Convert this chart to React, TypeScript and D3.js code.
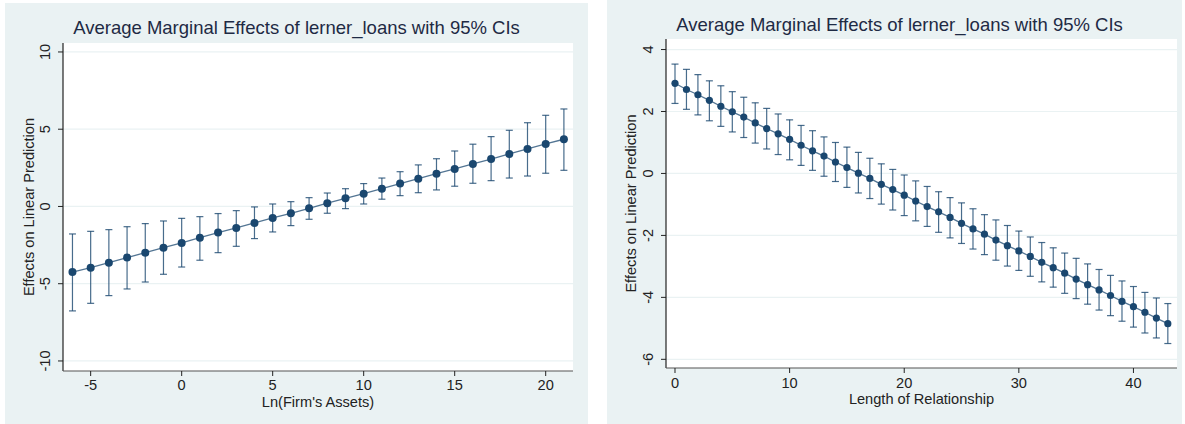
import { scaleLinear, line } from "d3";

// ---- data ----
const assetsX = [-6,-5,-4,-3,-2,-1,0,1,2,3,4,5,6,7,8,9,10,11,12,13,14,15,16,17,18,19,20,21];
const assetsMid = [-4.25,-3.96,-3.64,-3.31,-2.99,-2.67,-2.36,-2.02,-1.69,-1.39,-1.07,-0.74,-0.44,-0.12,0.21,0.53,0.83,1.15,1.48,1.80,2.12,2.43,2.75,3.07,3.40,3.72,4.05,4.35];
const assetsHi = [-1.78,-1.61,-1.50,-1.31,-1.11,-0.94,-0.77,-0.66,-0.46,-0.27,-0.03,0.16,0.31,0.57,0.87,1.15,1.48,1.84,2.25,2.69,3.09,3.59,4.03,4.52,4.93,5.42,5.90,6.31];
const assetsLo = [-6.76,-6.27,-5.77,-5.34,-4.89,-4.39,-3.92,-3.48,-2.99,-2.58,-2.08,-1.65,-1.24,-0.83,-0.44,-0.14,0.16,0.47,0.70,0.89,1.07,1.31,1.50,1.67,1.84,1.97,2.15,2.34];
const assetsXTicks = [-5,0,5,10,15,20];
const assetsYTicks = [-10,-5,0,5,10];

const relX = Array.from({ length: 44 }, (_, i) => i);
const relMid = [2.91,2.71,2.54,2.36,2.17,1.99,1.82,1.63,1.45,1.28,1.10,0.91,0.73,0.56,0.37,0.19,0.01,-0.16,-0.35,-0.52,-0.70,-0.89,-1.07,-1.24,-1.42,-1.61,-1.79,-1.96,-2.15,-2.33,-2.50,-2.68,-2.87,-3.04,-3.22,-3.41,-3.59,-3.76,-3.94,-4.13,-4.30,-4.48,-4.67,-4.85];
const relHi = [3.53,3.36,3.19,2.99,2.83,2.64,2.46,2.28,2.10,1.92,1.73,1.55,1.38,1.18,1.00,0.85,0.68,0.49,0.31,0.13,-0.05,-0.24,-0.42,-0.59,-0.78,-0.95,-1.14,-1.33,-1.50,-1.68,-1.86,-2.05,-2.23,-2.40,-2.57,-2.74,-2.92,-3.10,-3.29,-3.47,-3.65,-3.84,-4.02,-4.20];
const relLo = [2.26,2.07,1.89,1.70,1.52,1.34,1.16,0.98,0.79,0.61,0.44,0.26,0.10,-0.09,-0.26,-0.45,-0.63,-0.81,-0.99,-1.18,-1.36,-1.53,-1.71,-1.90,-2.08,-2.26,-2.44,-2.62,-2.80,-2.99,-3.13,-3.32,-3.50,-3.67,-3.87,-4.04,-4.22,-4.41,-4.59,-4.77,-4.96,-5.15,-5.31,-5.49];
const relXTicks = [0,10,20,30,40];
const relYTicks = [-6,-4,-2,0,2,4];

const TITLE = "Average Marginal Effects of lerner_loans with 95% CIs";
const YTITLE = "Effects on Linear Prediction";

const BG = "#eaf2f3";
const NAVY = "#1a476f";
const FONT = "'Liberation Sans', Arial, sans-serif";

interface PanelProps {
  box: { x0: number; y0: number; x1: number; y1: number };
  plot: { left: number; top: number; right: number; bottom: number };
  xDom: [number, number]; yDom: [number, number];
  xs: number[]; mid: number[]; lo: number[]; hi: number[];
  xTicks: number[]; yTicks: number[];
  xTitle: string; titleX: number; titleY: number;
  yTitleX: number; yTickX: number; xTickY: number; xTitleY: number;
  r: number;
}

function Panel(p: PanelProps) {
  const { plot } = p;
  const x = scaleLinear().domain(p.xDom).range([plot.left, plot.right]);
  const y = scaleLinear().domain(p.yDom).range([plot.bottom, plot.top]);
  const path = line<number>().x((_, i) => x(p.xs[i])).y(d => y(d))(p.mid) ?? "";
  const cap = 3.5;
  const cy = (plot.top + plot.bottom) / 2;
  return (
    <g>
      <rect x={p.box.x0} y={p.box.y0} width={p.box.x1 - p.box.x0} height={p.box.y1 - p.box.y0} fill={BG}/>
      <rect x={plot.left} y={plot.top} width={plot.right - plot.left} height={plot.bottom - plot.top} fill="#fff"/>
      {p.yTicks.map(t => (
        <line key={t} x1={plot.left} x2={plot.right} y1={y(t)} y2={y(t)} stroke={BG} strokeWidth={1.2}/>
      ))}
      <text x={p.titleX} y={p.titleY} textAnchor="middle" fontSize={18.5} fill="#1e2a44" fontFamily={FONT}>{TITLE}</text>
      {/* error bars */}
      {p.xs.map((v, i) => (
        <g key={v} stroke={NAVY} strokeWidth={1.2} strokeOpacity={0.8}>
          <line x1={x(v)} x2={x(v)} y1={y(p.lo[i])} y2={y(p.hi[i])}/>
          <line x1={x(v) - cap} x2={x(v) + cap} y1={y(p.lo[i])} y2={y(p.lo[i])}/>
          <line x1={x(v) - cap} x2={x(v) + cap} y1={y(p.hi[i])} y2={y(p.hi[i])}/>
        </g>
      ))}
      <path d={path} fill="none" stroke={NAVY} strokeWidth={1.3} strokeOpacity={0.75}/>
      {p.xs.map((v, i) => <circle key={v} cx={x(v)} cy={y(p.mid[i])} r={p.r} fill={NAVY}/>)}
      {/* axes */}
      <line x1={plot.left} x2={plot.left} y1={plot.top} y2={plot.bottom} stroke="#222" strokeWidth={1.2}/>
      <line x1={plot.left} x2={plot.right} y1={plot.bottom} y2={plot.bottom} stroke="#555" strokeWidth={1.2}/>
      {p.yTicks.map(t => (
        <g key={t}>
          <line x1={plot.left - 5} x2={plot.left} y1={y(t)} y2={y(t)} stroke="#222" strokeWidth={1}/>
          <text transform={`translate(${p.yTickX},${y(t)}) rotate(-90)`} textAnchor="middle" fontSize={14.6} fill="#222" fontFamily={FONT}>{t}</text>
        </g>
      ))}
      {p.xTicks.map(t => (
        <g key={t}>
          <line x1={x(t)} x2={x(t)} y1={plot.bottom} y2={plot.bottom + 5} stroke="#222" strokeWidth={1}/>
          <text x={x(t)} y={p.xTickY} textAnchor="middle" fontSize={14.6} fill="#222" fontFamily={FONT}>{t}</text>
        </g>
      ))}
      <text x={(plot.left + plot.right) / 2} y={p.xTitleY} textAnchor="middle" fontSize={14.6} fill="#222" fontFamily={FONT}>{p.xTitle}</text>
      <text transform={`translate(${p.yTitleX},${cy}) rotate(-90)`} textAnchor="middle" fontSize={14.6} fill="#222" fontFamily={FONT}>{YTITLE}</text>
    </g>
  );
}

export default function App() {
  return (
    <svg width={1185} height={424} style={{ position: "fixed", left: 0, top: 0, background: "#fff" }}>
      <Panel
        box={{ x0: 5, y0: 3, x1: 588, y1: 424 }}
        plot={{ left: 63, top: 43, right: 573, bottom: 371 }}
        xDom={[-6.52, 21.5]} yDom={[-10.65, 10.58]}
        xs={assetsX} mid={assetsMid} lo={assetsLo} hi={assetsHi}
        xTicks={assetsXTicks} yTicks={assetsYTicks}
        xTitle="Ln(Firm's Assets)" titleX={296.5} titleY={34}
        yTitleX={34} yTickX={50} xTickY={390} xTitleY={407} r={4}
      />
      <Panel
        box={{ x0: 607, y0: 0, x1: 1182, y1: 424 }}
        plot={{ left: 666, top: 39, right: 1177, bottom: 368 }}
        xDom={[-0.785, 43.8]} yDom={[-6.28, 4.34]}
        xs={relX} mid={relMid} lo={relLo} hi={relHi}
        xTicks={relXTicks} yTicks={relYTicks}
        xTitle="Length of Relationship" titleX={899.5} titleY={31}
        yTitleX={636} yTickX={653} xTickY={387.5} xTitleY={404} r={3.6}
      />
    </svg>
  );
}
